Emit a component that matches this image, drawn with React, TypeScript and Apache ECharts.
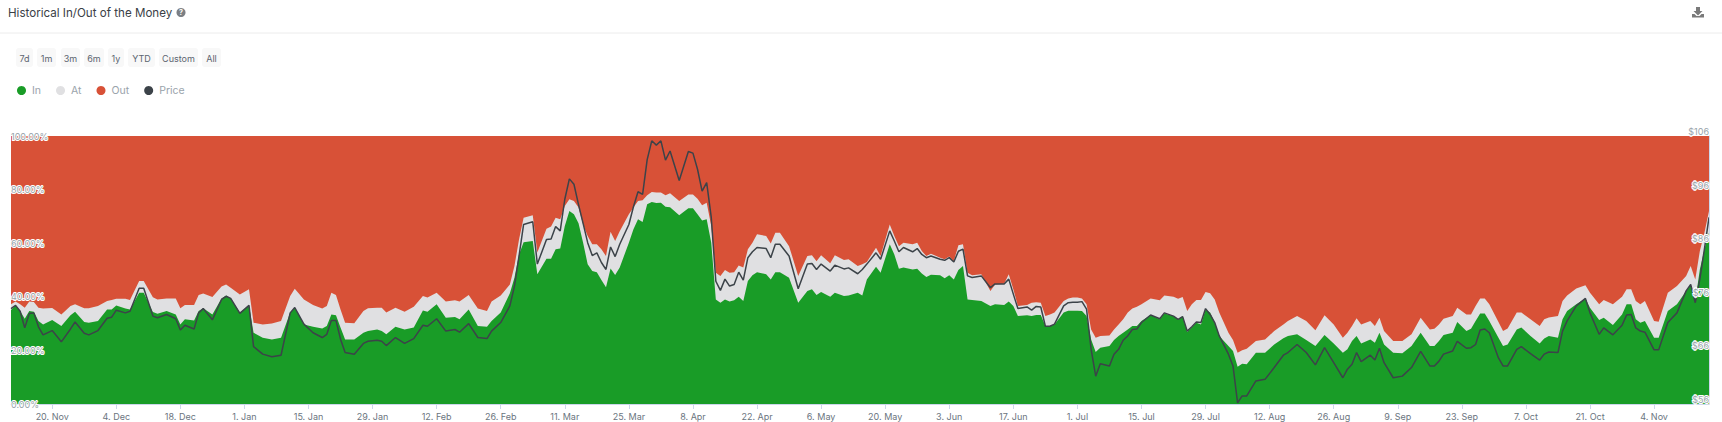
import React, { useEffect, useRef } from "react";
import * as echarts from "echarts";

const FONT = "Inter, 'Noto Sans', sans-serif";

const dayOffsets = [0,1,2,3,4,5,6,7,9,11,13,14,16,17,19,21,22,23,25,26,28,29,31,32,34,36,37,38,40,41,42,44,46,47,48,50,52,53,55,57,59,61,62,64,66,68,69,70,71,72,73,75,77,78,80,81,82,84,86,88,90,91,93,95,97,98,100,102,104,105,107,109,110,111,112,114,115,117,118,119,120,121,122,123,124,125,126,127,128,129,130,131,132,133,135,136,137,138,139,140,141,142,143,144,146,148,149,150,151,152,153,154,155,156,157,158,159,160,161,162,163,165,166,167,168,170,172,174,175,176,177,179,180,182,183,185,186,187,189,190,192,193,194,195,197,198,199,200,201,203,204,205,206,207,208,209,210,212,214,215,217,218,219,220,222,223,224,225,226,227,228,230,231,232,233,234,235,236,237,238,240,241,242,243,244,245,246,247,249,251,252,254,255,256,257,258,259,260,261,262,263,264,266,267,268,269,270,272,274,276,278,279,281,283,285,287,289,291,292,293,294,295,297,298,299,300,302,304,306,308,310,311,312,313,315,316,318,319,320,321,322,323,325,326,327,329,330,332,334,335,336,338,339,340,342,344,345,347,348,350,352,353,354,355,356,357,359,360,362,364,366,367,368,369,370,371];

const inShare = [35.1,36.8,34.7,31.8,34.7,34.4,31.0,29.7,31.3,29.1,33.1,34.4,30.6,30.3,31.0,35.3,35.3,36.8,35.6,35.3,41.5,41.5,34.3,33.7,34.7,33.4,29.7,31.6,31.2,34.7,35.7,33.4,39.4,40.5,39.4,34.1,36.8,26.6,24.7,24.1,24.7,34.1,35.9,29.7,28.8,28.2,29.1,33.4,33.1,28.5,24.1,24.1,26.6,27.2,27.8,27.2,26.0,28.8,27.8,28.5,34.9,34.4,37.2,32.2,32.5,31.6,35.3,29.1,28.8,31.0,34.1,41.3,47.1,55.8,60.4,60.8,48.4,54.2,54.2,57.7,58.0,66.4,72.0,70.8,67.4,60.2,52.1,49.6,49.2,46.3,43.6,50.6,48.1,50.9,60.2,65.2,68.9,67.9,74.5,75.4,75.0,75.1,73.6,73.4,70.4,73.0,73.0,70.8,68.5,68.9,60.2,39.0,37.8,39.0,38.2,38.7,40.0,38.4,45.9,48.0,49.2,48.4,46.5,49.2,49.2,47.1,37.8,42.2,42.8,40.7,41.8,40.0,41.5,40.3,40.5,41.5,40.5,46.5,51.2,49.0,59.6,55.8,50.5,50.9,50.2,50.5,48.7,47.4,48.2,48.0,46.9,48.0,46.5,50.0,51.5,39.0,38.8,38.4,36.6,37.2,36.9,38.2,36.6,32.8,33.1,32.8,33.2,33.2,29.1,29.1,29.7,34.1,34.8,34.8,34.8,34.7,32.8,24.1,19.4,21.0,21.6,23.9,25.4,26.6,27.8,29.1,29.1,31.0,33.2,31.6,33.8,32.8,31.6,32.8,26.9,28.5,30.3,29.7,35.3,34.1,30.3,25.4,21.6,19.8,13.9,15.0,14.8,19.1,19.1,22.2,24.5,25.4,26.0,23.9,21.6,25.7,22.6,19.1,20.4,23.5,25.4,22.6,24.1,22.9,26.6,22.2,19.1,18.9,21.6,26.6,21.6,21.6,23.5,25.7,26.6,30.6,27.2,28.1,31.0,33.8,33.8,31.0,24.7,21.6,22.2,27.8,28.5,25.4,22.6,24.4,25.4,24.7,31.6,34.7,37.2,39.4,35.9,31.3,32.2,29.5,33.4,37.2,37.2,31.6,30.3,31.0,24.7,24.7,34.7,37.2,42.2,44.3,38.4,50.2,57.7,63.9];

const inPlusAtShare = [37.2,38.2,37.2,35.9,38.2,38.1,35.9,35.6,35.8,33.4,36.6,37.2,35.7,35.7,36.6,38.4,38.8,39.3,39.3,38.8,45.9,45.9,39.8,39.0,39.4,39.4,35.7,36.9,36.9,40.7,41.2,39.9,43.8,44.6,43.4,40.9,42.8,30.3,29.7,30.0,31.0,40.3,43.0,39.0,36.9,35.6,36.6,41.5,40.7,35.3,30.3,30.1,34.7,35.7,35.9,35.9,34.1,35.9,34.4,36.3,40.3,39.7,41.5,38.2,38.7,38.2,40.7,35.6,34.7,38.2,40.5,44.6,51.5,61.4,69.5,70.4,56.5,65.4,66.2,69.5,68.9,73.9,76.4,75.7,73.3,67.0,62.7,59.6,59.6,57.7,55.2,64.3,60.8,64.5,70.8,73.3,75.7,76.0,77.9,79.1,78.9,78.9,77.9,78.6,75.7,78.2,78.2,76.6,74.2,75.1,66.4,49.0,47.8,50.0,49.0,49.2,51.7,50.9,57.7,60.2,63.3,62.7,59.9,63.9,63.9,58.9,47.8,55.2,55.5,53.3,55.5,52.5,55.5,53.7,54.0,51.5,52.1,53.0,58.3,55.2,67.0,62.7,58.9,60.2,59.6,60.2,57.1,55.2,56.1,54.6,54.0,55.0,53.3,59.2,59.6,49.0,48.0,48.4,42.2,44.6,44.9,48.4,42.8,36.6,36.9,37.8,38.0,37.8,32.8,33.4,34.1,38.4,39.4,39.7,39.7,39.4,37.2,27.8,24.7,25.4,25.6,27.8,29.7,31.6,34.1,35.6,36.3,37.2,39.4,38.7,40.5,40.0,39.3,39.9,34.7,37.2,38.8,38.8,41.8,41.3,39.0,34.1,26.6,23.9,19.1,20.1,20.6,23.5,24.1,27.2,29.7,31.0,32.8,31.0,27.5,33.1,29.7,24.7,26.6,29.1,32.0,29.7,31.0,29.1,32.2,27.2,23.5,23.5,26.0,32.2,27.8,28.1,29.7,31.8,32.8,35.9,33.4,33.4,36.6,39.4,39.4,37.2,30.6,27.2,28.2,34.1,34.1,31.6,29.1,31.6,32.3,32.8,38.4,40.5,43.1,44.3,41.5,37.2,38.8,37.2,40.0,42.8,42.8,38.4,37.2,38.4,31.0,30.7,41.5,44.0,47.8,51.5,46.5,57.1,63.9,72.0];

const price = [73.8,74.4,73.3,70.2,72.9,73.0,70.4,68.9,69.7,67.6,70.0,71.3,69.2,68.9,69.7,72.0,72.2,73.5,73.0,73.3,77.6,77.6,72.4,72.1,72.7,71.9,69.8,70.7,70.0,73.0,73.8,71.7,75.5,76.1,75.7,72.9,74.4,66.7,65.3,64.8,65.1,73.0,74.0,70.9,69.3,68.4,69.0,71.6,71.6,68.1,65.6,65.3,67.3,67.7,67.9,67.7,66.9,68.4,67.3,68.2,70.7,70.5,71.9,69.6,69.9,69.4,71.0,68.4,68.2,69.6,71.2,74.3,78.0,83.6,89.5,90.0,82.1,86.7,86.8,89.1,88.3,94.2,98.0,97.0,93.2,89.7,86.1,83.7,84.2,82.4,81.1,85.3,83.5,85.8,89.5,92.8,95.6,95.1,101.6,105.1,104.3,105.1,101.5,103.2,97.7,103.1,102.8,99.8,95.7,97.3,90.8,78.9,77.2,79.3,78.0,78.3,80.6,79.1,83.3,84.4,85.2,85.0,83.3,85.8,85.8,83.6,77.5,82.1,82.2,81.1,82.1,80.8,81.9,81.2,81.4,80.3,81.1,82.1,84.2,83.0,88.3,86.4,84.4,85.2,84.4,85.0,83.9,83.3,83.6,83.0,82.8,83.3,82.5,84.5,84.9,79.9,79.6,79.9,77.7,78.4,78.4,79.3,76.5,73.8,74.1,73.5,74.2,74.1,70.5,70.5,70.9,74.3,74.9,75.0,75.0,75.1,73.7,66.2,61.2,63.5,63.1,65.3,66.2,67.9,68.7,69.9,70.0,71.2,72.6,71.9,73.0,72.4,71.8,72.3,69.6,70.4,71.3,71.2,73.8,72.7,71.2,68.7,65.3,63.1,56.2,57.5,57.5,60.3,60.6,62.8,65.1,65.6,67.1,65.6,63.3,66.5,63.7,60.9,62.5,63.4,65.6,63.9,65.1,64.2,66.4,63.7,60.9,61.2,62.8,65.8,63.1,63.1,64.0,65.3,65.9,67.7,66.4,66.5,67.1,69.8,70.0,69.3,64.6,63.1,63.1,66.2,66.7,65.4,64.2,65.3,65.7,65.6,69.6,71.5,74.3,75.7,73.0,69.0,70.2,68.9,70.7,72.6,72.7,70.2,69.6,69.4,66.1,66.1,71.2,73.0,77.1,78.3,74.9,79.3,84.9,90.8];

const tickDays = [9,23,37,51,65,79,93,107,121,135,149,163,177,191,205,219,233,247,261,275,289,303,317,331,345,359];
const tickLabels = ["20. Nov","4. Dec","18. Dec","1. Jan","15. Jan","29. Jan","12. Feb","26. Feb","11. Mar","25. Mar","8. Apr","22. Apr","6. May","20. May","3. Jun","17. Jun","1. Jul","15. Jul","29. Jul","12. Aug","26. Aug","9. Sep","23. Sep","7. Oct","21. Oct","4. Nov"];
const priceTicks = [56,66,76,86,96,106];
const rangeButtons = ["7d","1m","3m","6m","1y","YTD","Custom","All"];
const buttonLeft = [16,37,61,84,108,128,159,202];
const buttonWidth = [17,19,19,20,16,27,39,19];

const GREEN = "#199c27";
const GREY = "#e0e0e2";
const RED = "#d85137";
const DARK = "#3c4349";

export default function App() {
  const ref = useRef<HTMLDivElement>(null);
  useEffect(() => {
    if (!ref.current) return;
    const chart = echarts.init(ref.current, undefined, { renderer: "svg" });
    const inData = dayOffsets.map((d, i) => [d, inShare[i]]);
    const atTopData = dayOffsets.map((d, i) => [d, inPlusAtShare[i]]);
    const outTopData = dayOffsets.map((d) => [d, 100]);
    const priceData = dayOffsets.map((d, i) => [d, price[i]]);
    const area = (name: string, color: string, data: number[][], z: number) => ({
      name, type: "line", yAxisIndex: 0, data, color, z,
      showSymbol: false, symbol: "none", silent: true,
      lineStyle: { width: 0, color }, itemStyle: { color },
      areaStyle: { color, opacity: 1 },
    });
    const buttons: any[] = [];
    rangeButtons.forEach((b, i) => {
      buttons.push({ type: "rect", shape: { x: buttonLeft[i], y: 48, width: buttonWidth[i], height: 19, r: 3 }, style: { fill: "#f8f8f8" } });
      buttons.push({ type: "text", style: { x: buttonLeft[i] + buttonWidth[i] / 2, y: 58, text: b, fill: "#5c6570", font: `9px ${FONT}`, textAlign: "center", textVerticalAlign: "middle" } });
    });
    chart.setOption({
      animation: false,
      backgroundColor: "#ffffff",
      grid: { left: 11, top: 136, width: 1698, height: 268, containLabel: false },
      legend: {
        left: 12, top: 80, itemWidth: 9, itemHeight: 9, itemGap: 15, icon: "circle",
        data: ["In", "At", "Out", "Price"],
        textStyle: { color: "#9aa3ab", fontFamily: FONT, fontSize: 10.5, padding: [0, 0, 0, 1] },
        selectedMode: false,
      },
      xAxis: {
        type: "value", min: 0, max: 371,
        splitLine: { show: false },
        axisLine: { show: true, onZero: false, lineStyle: { color: "#ccd6eb" } },
        axisTick: { show: true, length: 5, lineStyle: { color: "#ccd6eb" }, customValues: tickDays },
        axisLabel: {
          customValues: tickDays, color: "#6b7580", fontFamily: FONT, fontSize: 9, margin: 8,
          formatter: (v: number) => tickLabels[tickDays.indexOf(v)] ?? "",
        },
      },
      yAxis: [
        {
          type: "value", min: 0, max: 100, interval: 20, position: "left",
          splitLine: { show: false }, axisLine: { show: false }, axisTick: { show: false },
          axisLabel: {
            inside: true, margin: 0, color: "#98a3aa", fontFamily: FONT, fontSize: 9,
            textBorderColor: "#ffffff", textBorderWidth: 2,
            formatter: (v: number) => `${v.toFixed(2)}%`,
          },
          z: 10,
        },
        {
          type: "value", min: 56, max: 106, position: "right",
          splitLine: { show: false }, axisTick: { show: false },
          axisLine: { show: true, lineStyle: { color: "#ccd6eb" } },
          axisLabel: {
            inside: true, margin: 0, customValues: priceTicks, color: "#98a3aa", fontFamily: FONT, fontSize: 9,
            textBorderColor: "#ffffff", textBorderWidth: 2, verticalAlign: "bottom",
            formatter: (v: number) => `$${v}`,
          },
          z: 10,
        },
      ],
      series: [
        area("In", GREEN, inData, 4),
        area("At", GREY, atTopData, 3),
        area("Out", RED, outTopData, 2),
        {
          name: "Price", type: "line", yAxisIndex: 1, data: priceData, color: DARK,
          showSymbol: false, symbol: "none", silent: true, z: 5,
          lineStyle: { width: 1.5, color: DARK }, itemStyle: { color: DARK },
        },
      ],
      graphic: [
        { type: "text", style: { x: 8, y: 13, text: "Historical In/Out of the Money", fill: "#3a4046", font: `11.6px ${FONT}`, textVerticalAlign: "middle" } },
        { type: "circle", shape: { cx: 181, cy: 12.5, r: 4.5 }, style: { fill: "#7b7f84" } },
        { type: "text", style: { x: 181, y: 12.5, text: "?", fill: "#ffffff", font: `bold 7px ${FONT}`, textAlign: "center", textVerticalAlign: "middle" } },
        { type: "line", shape: { x1: 0, y1: 33, x2: 1722, y2: 33 }, style: { stroke: "#ececec", lineWidth: 1 } },
        { type: "polygon", shape: { points: [[1696,7],[1700,7],[1700,11],[1702.5,11],[1698,15.5],[1693.5,11],[1696,11]] }, style: { fill: "#7a7a7a" } },
        { type: "polygon", shape: { points: [[1692,14],[1694.5,14],[1696.5,16],[1699.5,16],[1701.5,14],[1704,14],[1704,17.5],[1692,17.5]] }, style: { fill: "#7a7a7a" } },
        ...buttons,
      ],
    });
    return () => chart.dispose();
  }, []);
  return <div ref={ref} style={{ position: "absolute", left: 0, top: 0, width: 1722, height: 422 }} />;
}
